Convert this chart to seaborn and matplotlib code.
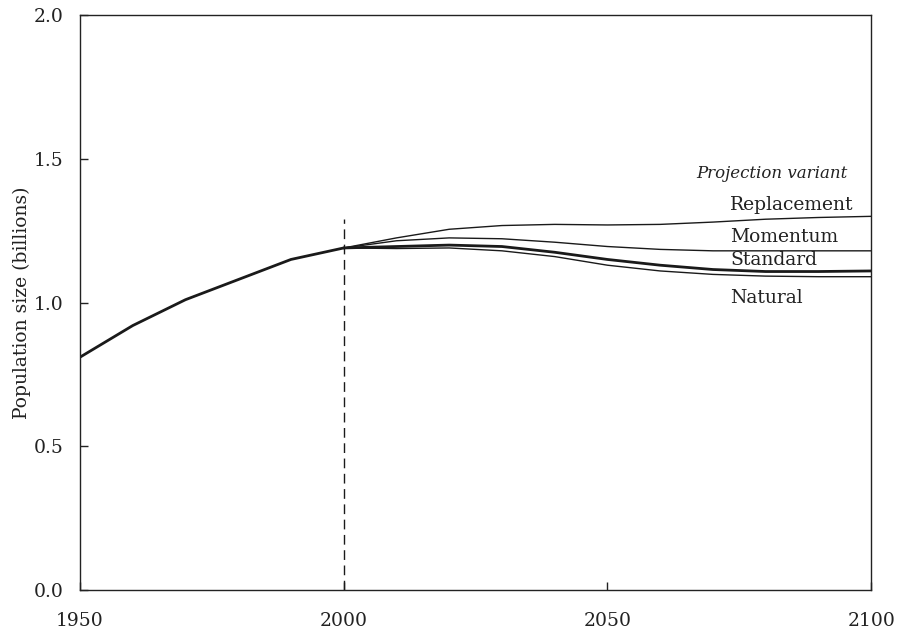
import pandas as pd
import matplotlib
matplotlib.use("Agg")
import matplotlib.pyplot as plt
import seaborn as sns

# Observed population 1950-2000 (billions)
hist_years = [1950, 1960, 1970, 1980, 1990, 2000]
hist_pop = [0.81, 0.92, 1.01, 1.08, 1.15, 1.19]

# Projection variants 2000-2100
proj_years = [2000, 2010, 2020, 2030, 2040, 2050, 2060, 2070, 2080, 2090, 2100]
replacement = [1.19, 1.225, 1.255, 1.268, 1.272, 1.27, 1.272, 1.28, 1.29, 1.296, 1.30]
momentum = [1.19, 1.215, 1.225, 1.222, 1.21, 1.195, 1.185, 1.18, 1.18, 1.18, 1.18]
standard = [1.19, 1.195, 1.20, 1.195, 1.175, 1.15, 1.13, 1.115, 1.108, 1.108, 1.11]
natural = [1.19, 1.188, 1.19, 1.18, 1.16, 1.13, 1.11, 1.098, 1.092, 1.09, 1.09]

variant_names = ["Replacement", "Momentum", "Standard", "Natural"]
label_y = [1.34, 1.228, 1.148, 1.017]

sns.set_style("ticks")
plt.rcParams['font.family'] = ['DejaVu Serif']

fig = plt.figure(figsize=(8.99, 6.31), dpi=100)
ax = fig.add_axes([0.089, 0.065, 0.880, 0.911])

hist = pd.DataFrame({"year": hist_years, "pop": hist_pop})
sns.lineplot(data=hist, x="year", y="pop", color="#1a1a1a", linewidth=2.0, ax=ax)

for name, vals in zip(variant_names, [replacement, momentum, standard, natural]):
    d = pd.DataFrame({"year": proj_years, "pop": vals})
    lw = 2.0 if name == "Standard" else 1.0
    sns.lineplot(data=d, x="year", y="pop", color="#1a1a1a", linewidth=lw, ax=ax)

ax.plot([2000, 2000], [0, 1.29], color="#1a1a1a", linewidth=1.0, linestyle=(0, (7, 4)))

for name, yy in zip(variant_names, label_y):
    ax.text(2073.3, yy, name, fontsize=13.5, ha="left", va="center", color="#222222")
ax.text(2095.5, 1.448, "Projection variant", fontsize=12, style="italic",
        ha="right", va="center", color="#222222")

ax.set_xlim(1950, 2100)
ax.set_ylim(0, 2.0)
ax.set_xticks([1950, 2000, 2050, 2100])
ax.set_yticks([0.0, 0.5, 1.0, 1.5, 2.0])
ax.set_yticklabels(["0.0", "0.5", "1.0", "1.5", "2.0"])
ax.tick_params(direction="in", length=6, width=1, labelsize=13.5, colors="#222222")
ax.tick_params(axis="y", pad=12)
ax.tick_params(axis="x", pad=16)
ax.set_xlabel("")
ax.set_ylabel("Population size (billions)", fontsize=13.5, color="#222222", labelpad=2)
for s in ax.spines.values():
    s.set_visible(True)
    s.set_linewidth(1.0)
    s.set_color("#222222")

fig.savefig("out.png", dpi=100)
